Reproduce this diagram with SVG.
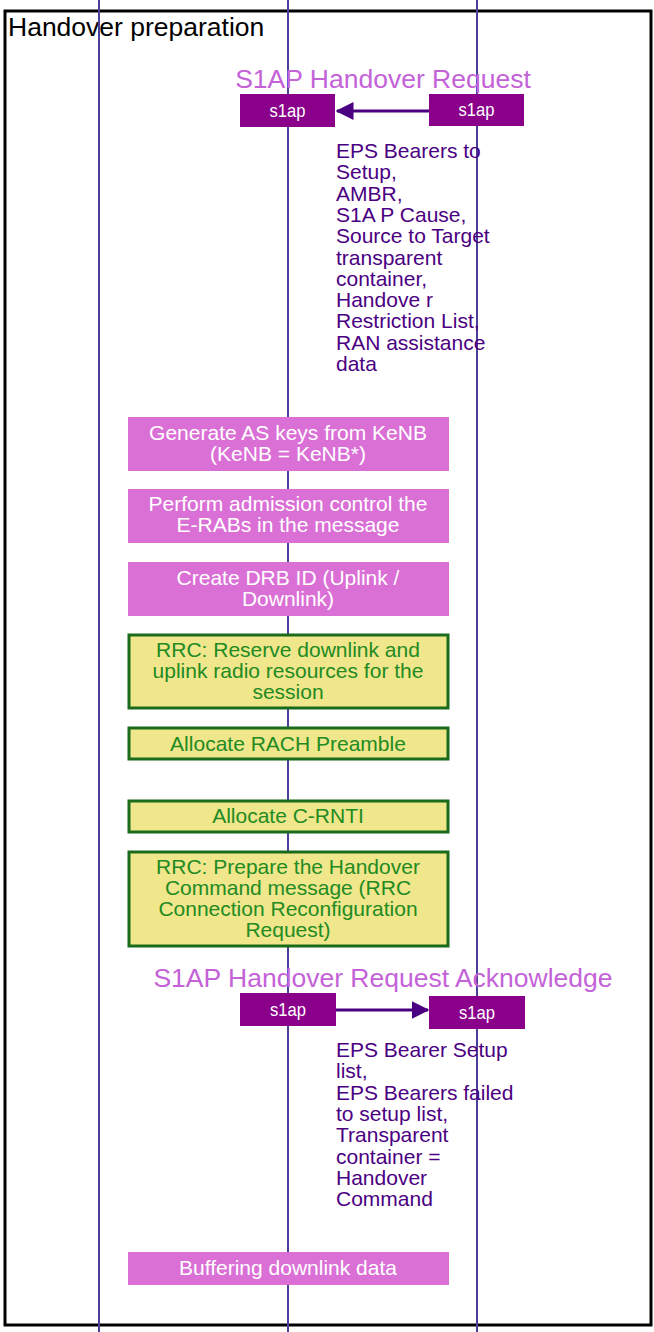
<svg xmlns="http://www.w3.org/2000/svg" width="654" height="1332" viewBox="0 0 654 1332">
<style>
.frame{fill:none;stroke:#000;stroke-width:3}
.life{stroke:#4a3f9a;stroke-width:2}
.title{font-family:"Liberation Sans",Arial,sans-serif;font-size:26.5px;fill:#c462d8;text-anchor:middle}
.s1box{fill:#8b008b}
.s1txt{font-family:"Liberation Sans Narrow","Liberation Sans",sans-serif;font-size:19px;fill:#fff;text-anchor:middle}
.msg{stroke:#4b0082;stroke-width:3;fill:none}
.param{font-family:"Liberation Sans",Arial,sans-serif;font-size:21px;fill:#4b0082}
.pink{fill:#da70d6}
.ptxt{font-family:"Liberation Sans",Arial,sans-serif;font-size:21px;fill:#fff;text-anchor:middle}
.yel{fill:#f0e68c;stroke:#1a6b1a;stroke-width:3}
.ytxt{font-family:"Liberation Sans",Arial,sans-serif;font-size:21px;fill:#228b22;text-anchor:middle}
.label{font-family:"Liberation Sans",Arial,sans-serif;font-size:26.5px;fill:#000}
</style>
<defs>
<marker id="ah" markerWidth="6" markerHeight="6" refX="5.5" refY="3" orient="auto" markerUnits="strokeWidth">
<path d="M0,0 L6,3 L0,6 Z" fill="#4b0082"/>
</marker>
</defs>
<rect width="654" height="1332" fill="#fff"/>
<g id="frame">
<rect class="frame" x="5" y="11" width="646" height="1314"/>
<text class="label" x="8" y="36">Handover preparation</text>
</g>
<g id="lifelines">
<line class="life" x1="99" y1="0" x2="99" y2="1332"/>
<line class="life" x1="288" y1="0" x2="288" y2="1332"/>
<line class="life" x1="477" y1="0" x2="477" y2="1332"/>
</g>
<g id="msg1">
<text class="title" x="383" y="88">S1AP Handover Request</text>
<rect class="s1box" x="240" y="94" width="95" height="33"/>
<text class="s1txt" x="287.5" y="117" textLength="36" lengthAdjust="spacingAndGlyphs">s1ap</text>
<rect class="s1box" x="429" y="94" width="95" height="32"/>
<text class="s1txt" x="476.5" y="116" textLength="36" lengthAdjust="spacingAndGlyphs">s1ap</text>
<text class="param" x="336" y="158">
<tspan x="336" dy="0">EPS Bearers to</tspan>
<tspan x="336" dy="21.3">Setup,</tspan>
<tspan x="336" dy="21.3">AMBR,</tspan>
<tspan x="336" dy="21.3">S1A P Cause,</tspan>
<tspan x="336" dy="21.3">Source to Target</tspan>
<tspan x="336" dy="21.3">transparent</tspan>
<tspan x="336" dy="21.3">container,</tspan>
<tspan x="336" dy="21.3">Handove r</tspan>
<tspan x="336" dy="21.3">Restriction List,</tspan>
<tspan x="336" dy="21.3">RAN assistance</tspan>
<tspan x="336" dy="21.3">data</tspan>
</text>
</g>
<g id="step1">
<rect class="pink" x="128" y="417" width="321" height="54"/>
<text class="ptxt" x="288" y="440">Generate AS keys from KeNB</text>
<text class="ptxt" x="288" y="461">(KeNB = KeNB*)</text>
</g>
<g id="step2">
<rect class="pink" x="128" y="489" width="321" height="54"/>
<text class="ptxt" x="288" y="511">Perform admission control the</text>
<text class="ptxt" x="288" y="532">E-RABs in the message</text>
</g>
<g id="step3">
<rect class="pink" x="128" y="562" width="321" height="54"/>
<text class="ptxt" x="288" y="585">Create DRB ID (Uplink /</text>
<text class="ptxt" x="288" y="606">Downlink)</text>
</g>
<g id="step4">
<rect class="yel" x="129" y="635" width="319" height="73"/>
<text class="ytxt" x="288" y="657">RRC: Reserve downlink and</text>
<text class="ytxt" x="288" y="678">uplink radio resources for the</text>
<text class="ytxt" x="288" y="699">session</text>
</g>
<g id="step5">
<rect class="yel" x="129" y="728" width="319" height="31"/>
<text class="ytxt" x="288" y="751">Allocate RACH Preamble</text>
</g>
<g id="step6">
<rect class="yel" x="129" y="801" width="319" height="31"/>
<text class="ytxt" x="288" y="823">Allocate C-RNTI</text>
</g>
<g id="step7">
<rect class="yel" x="129" y="852" width="319" height="94"/>
<text class="ytxt" x="288" y="874">RRC: Prepare the Handover</text>
<text class="ytxt" x="288" y="895">Command message (RRC</text>
<text class="ytxt" x="288" y="916">Connection Reconfiguration</text>
<text class="ytxt" x="288" y="937">Request)</text>
</g>
<g id="msg2">
<text class="title" x="383" y="987">S1AP Handover Request Acknowledge</text>
<rect class="s1box" x="240" y="993" width="96" height="33"/>
<text class="s1txt" x="288" y="1016" textLength="36" lengthAdjust="spacingAndGlyphs">s1ap</text>
<rect class="s1box" x="429" y="996" width="96" height="33"/>
<text class="s1txt" x="477" y="1019" textLength="36" lengthAdjust="spacingAndGlyphs">s1ap</text>
<text class="param" x="336" y="1057">
<tspan x="336" dy="0">EPS Bearer Setup</tspan>
<tspan x="336" dy="21.3">list,</tspan>
<tspan x="336" dy="21.3">EPS Bearers failed</tspan>
<tspan x="336" dy="21.3">to setup list,</tspan>
<tspan x="336" dy="21.3">Transparent</tspan>
<tspan x="336" dy="21.3">container =</tspan>
<tspan x="336" dy="21.3">Handover</tspan>
<tspan x="336" dy="21.3">Command</tspan>
</text>
</g>
<g id="step8">
<rect class="pink" x="128" y="1252" width="321" height="33"/>
<text class="ptxt" x="288" y="1275">Buffering downlink data</text>
</g>
<g id="connectors">
<line class="msg" x1="429" y1="111" x2="337" y2="111" marker-end="url(#ah)"/>
<line class="msg" x1="336" y1="1010" x2="428" y2="1010" marker-end="url(#ah)"/>
</g>
</svg>
